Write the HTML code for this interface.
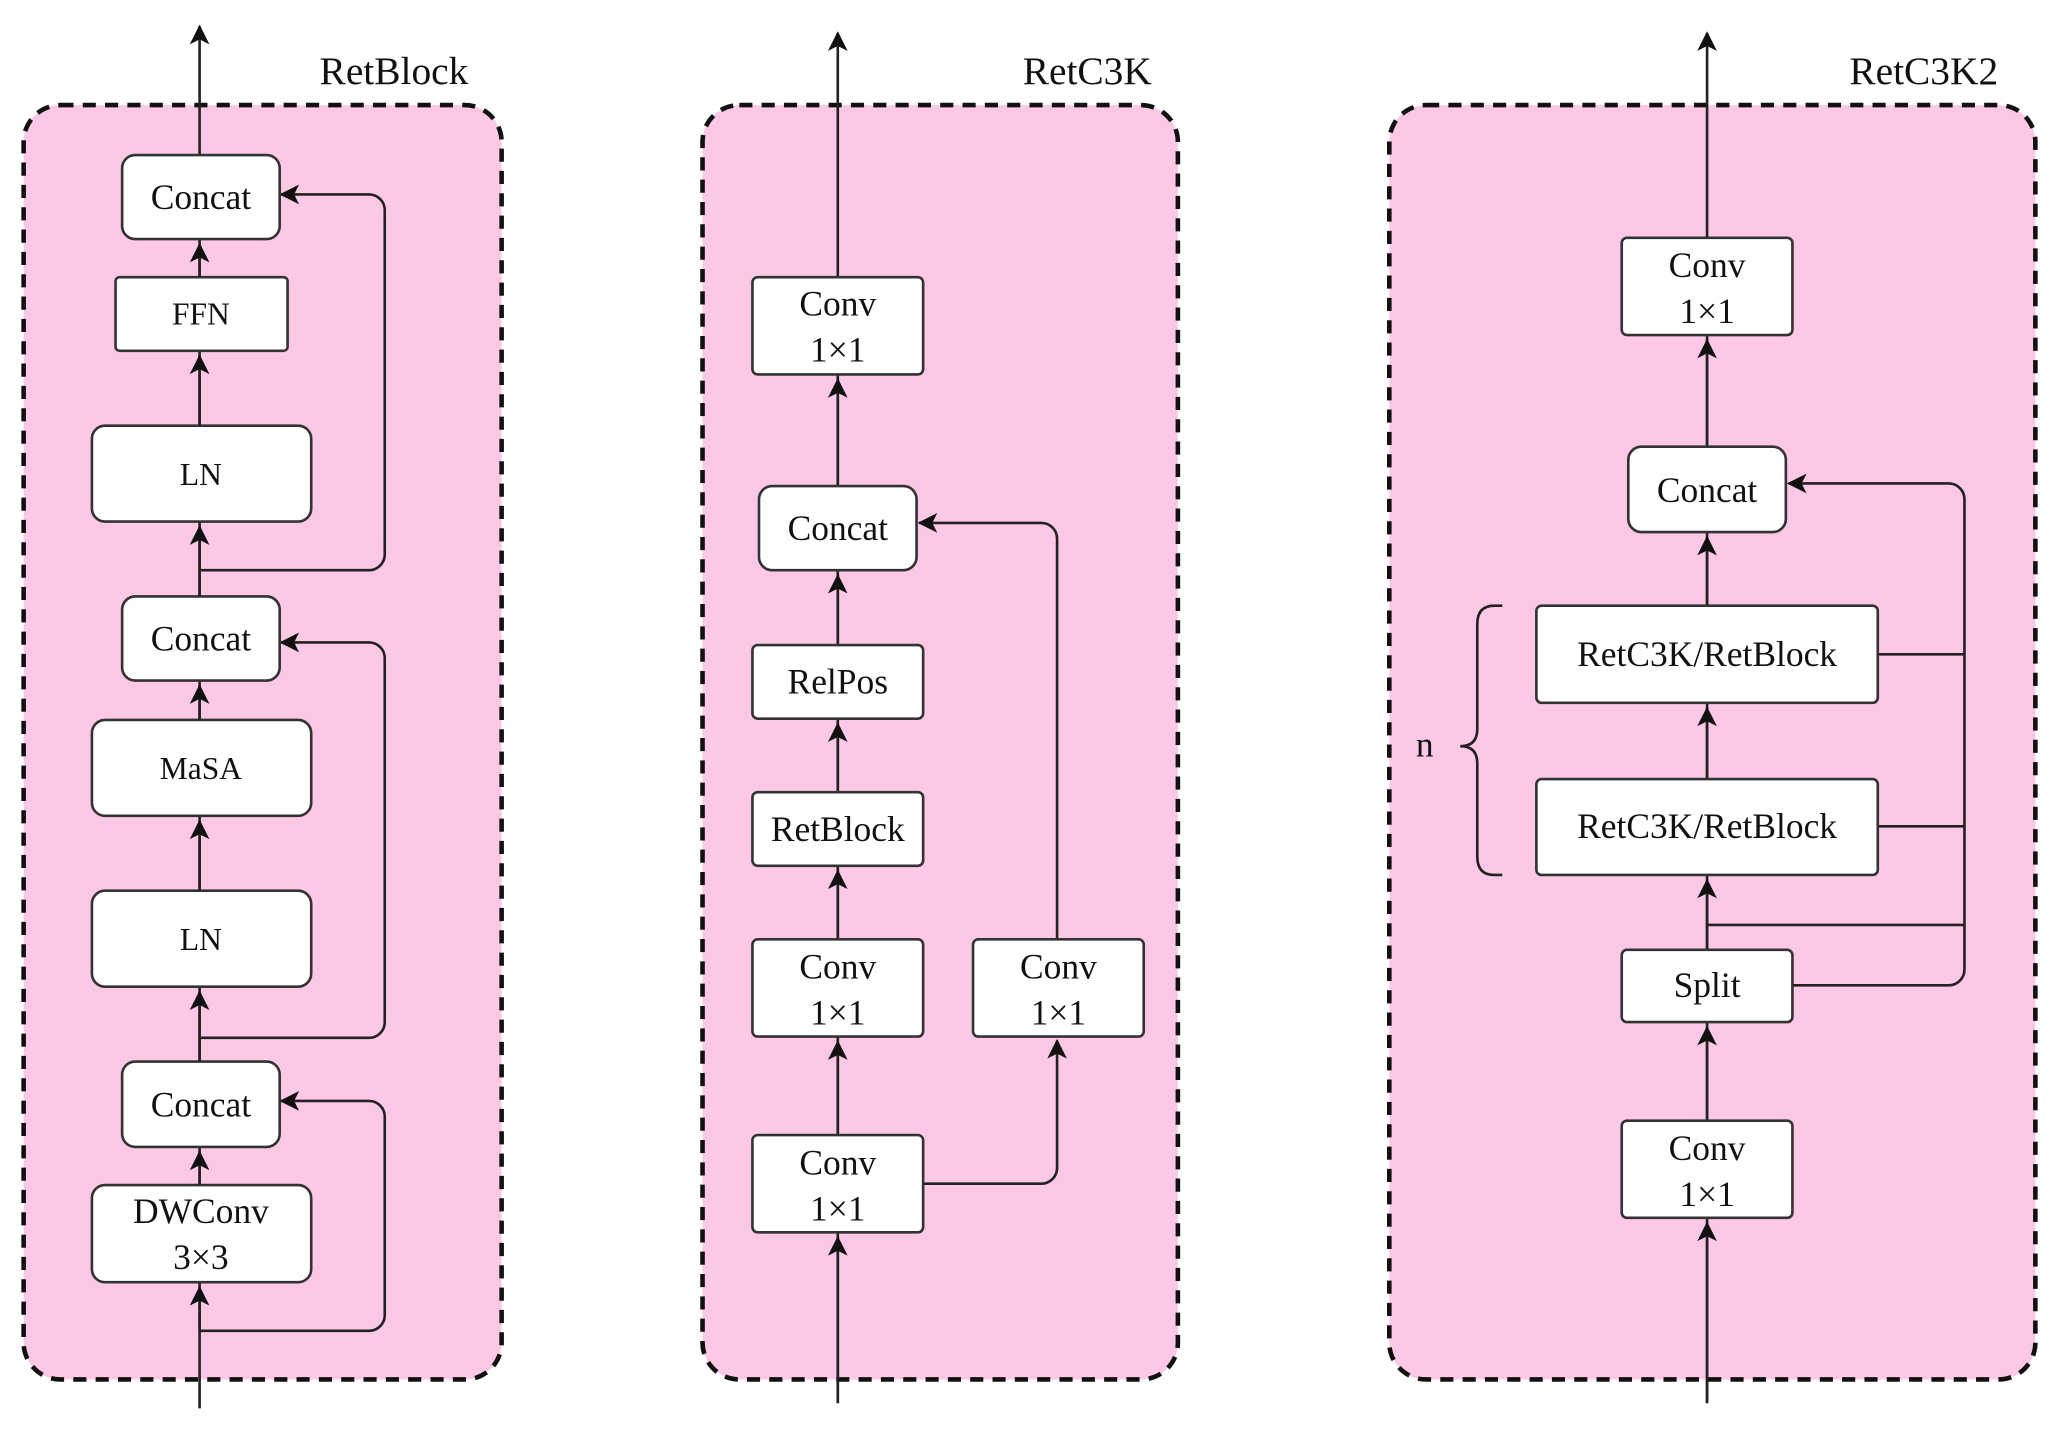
<!DOCTYPE html>
<html><head><meta charset="utf-8"><style>
html,body{margin:0;padding:0;background:#fff;}
svg{display:block;}
text{font-family:"Liberation Serif",serif;font-size:27px;fill:#111;text-anchor:middle;}
.b{fill:#fff;stroke:#333;stroke-width:2;}
.l{fill:none;stroke:#222;stroke-width:2;}
.p{fill:#fdc8e5;stroke:#111;stroke-width:3.5;stroke-dasharray:10,7;}
</style></head><body>
<svg width="2059" height="1432" viewBox="0 0 1568 1090" preserveAspectRatio="none">
<defs><marker id="a" viewBox="0 0 12 12" refX="11" refY="6" markerWidth="15" markerHeight="15" markerUnits="userSpaceOnUse" orient="auto"><path d="M0,0 L12,6 L0,12 L3,6 Z" fill="#111"/></marker></defs>
<rect class="p" x="18" y="80" width="364" height="970" rx="28"/>
<rect class="p" x="535" y="80" width="362" height="970" rx="28"/>
<rect class="p" x="1058" y="80" width="492" height="970" rx="28"/>
<text x="300" y="64" style="font-size:30px">RetBlock</text>
<text x="828" y="64" style="font-size:30px">RetC3K</text>
<text x="1465" y="64" style="font-size:30px">RetC3K2</text>

<!-- Panel 1 -->
<line class="l" x1="152" y1="1072" x2="152" y2="20" marker-end="url(#a)"/>
<g class="l">
<path d="M152,1013 H281 a12,12 0 0 0 12,-12 V850 a12,12 0 0 0 -12,-12 H214" marker-end="url(#a)"/>
<path d="M152,790 H281 a12,12 0 0 0 12,-12 V501 a12,12 0 0 0 -12,-12 H214" marker-end="url(#a)"/>
<path d="M152,434 H281 a12,12 0 0 0 12,-12 V160 a12,12 0 0 0 -12,-12 H214" marker-end="url(#a)"/>
</g>
<rect class="b" x="93" y="118" width="120" height="64" rx="10"/><text x="153" y="159">Concat</text>
<rect class="b" x="88" y="211" width="131" height="56" rx="3"/><text x="153" y="247" style="font-size:24px">FFN</text>
<rect class="b" x="70" y="324" width="167" height="73" rx="10"/><text x="153" y="369" style="font-size:24px">LN</text>
<rect class="b" x="93" y="454" width="120" height="64" rx="10"/><text x="153" y="495">Concat</text>
<rect class="b" x="70" y="548" width="167" height="73" rx="10"/><text x="153" y="593" style="font-size:24px">MaSA</text>
<rect class="b" x="70" y="678" width="167" height="73" rx="10"/><text x="153" y="723" style="font-size:24px">LN</text>
<rect class="b" x="93" y="808" width="120" height="65" rx="10"/><text x="153" y="850">Concat</text>
<rect class="b" x="70" y="902" width="167" height="74" rx="10"/><text x="153" y="931">DWConv</text><text x="153" y="966">3×3</text>
<g class="l"><path d="M152,211 V186" marker-end="url(#a)"/><path d="M152,324 V271" marker-end="url(#a)"/><path d="M152,454 V401" marker-end="url(#a)"/><path d="M152,548 V522" marker-end="url(#a)"/><path d="M152,678 V625" marker-end="url(#a)"/><path d="M152,808 V755" marker-end="url(#a)"/><path d="M152,902 V877" marker-end="url(#a)"/><path d="M152,1013 V980" marker-end="url(#a)"/></g>

<!-- Panel 2 -->
<line class="l" x1="638" y1="1068" x2="638" y2="25" marker-end="url(#a)"/>
<g class="l">
<path d="M703,901 H793 a12,12 0 0 0 12,-12 V792" marker-end="url(#a)"/>
<path d="M805,715 V410 a12,12 0 0 0 -12,-12 H700" marker-end="url(#a)"/>
<path d="M638,864 V793" marker-end="url(#a)"/><path d="M638,715 V663" marker-end="url(#a)"/><path d="M638,603 V551" marker-end="url(#a)"/><path d="M638,491 V438" marker-end="url(#a)"/><path d="M638,370 V289" marker-end="url(#a)"/><path d="M638,1068 V942" marker-end="url(#a)"/>
</g>
<rect class="b" x="573" y="211" width="130" height="74" rx="4"/><text x="638" y="240">Conv</text><text x="638" y="275">1×1</text>
<rect class="b" x="578" y="370" width="120" height="64" rx="10"/><text x="638" y="411">Concat</text>
<rect class="b" x="573" y="491" width="130" height="56" rx="4"/><text x="638" y="528">RelPos</text>
<rect class="b" x="573" y="603" width="130" height="56" rx="4"/><text x="638" y="640">RetBlock</text>
<rect class="b" x="573" y="715" width="130" height="74" rx="4"/><text x="638" y="745">Conv</text><text x="638" y="780">1×1</text>
<rect class="b" x="741" y="715" width="130" height="74" rx="4"/><text x="806" y="745">Conv</text><text x="806" y="780">1×1</text>
<rect class="b" x="573" y="864" width="130" height="74" rx="4"/><text x="638" y="894">Conv</text><text x="638" y="929">1×1</text>

<!-- Panel 3 -->
<line class="l" x1="1300" y1="1068" x2="1300" y2="25" marker-end="url(#a)"/>
<g class="l">
<path d="M1365,750 H1484 a12,12 0 0 0 12,-12 V380 a12,12 0 0 0 -12,-12 H1362" marker-end="url(#a)"/>
<path d="M1430,498 H1496 M1430,629 H1496 M1300,704 H1496"/>
<path d="M1300,1068 V931" marker-end="url(#a)"/><path d="M1300,853 V782" marker-end="url(#a)"/><path d="M1300,723 V670" marker-end="url(#a)"/><path d="M1300,593 V539" marker-end="url(#a)"/><path d="M1300,461 V409" marker-end="url(#a)"/><path d="M1300,340 V259" marker-end="url(#a)"/>
<path d="M1144,461 H1138 Q1125,461 1125,475 V555 Q1125,568 1112,568 Q1125,568 1125,581 V652 Q1125,666 1138,666 H1144"/>
</g>
<text x="1085" y="576">n</text>
<rect class="b" x="1235" y="181" width="130" height="74" rx="4"/><text x="1300" y="211">Conv</text><text x="1300" y="246">1×1</text>
<rect class="b" x="1240" y="340" width="120" height="65" rx="10"/><text x="1300" y="382">Concat</text>
<rect class="b" x="1170" y="461" width="260" height="74" rx="4"/><text x="1300" y="507">RetC3K/RetBlock</text>
<rect class="b" x="1170" y="593" width="260" height="73" rx="4"/><text x="1300" y="638">RetC3K/RetBlock</text>
<rect class="b" x="1235" y="723" width="130" height="55" rx="4"/><text x="1300" y="759">Split</text>
<rect class="b" x="1235" y="853" width="130" height="74" rx="4"/><text x="1300" y="883">Conv</text><text x="1300" y="918">1×1</text>
</svg>
</body></html>
